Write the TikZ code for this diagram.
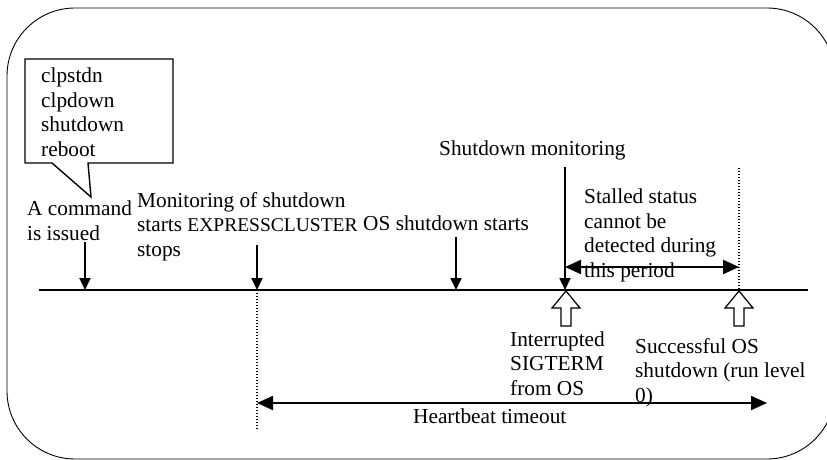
\documentclass[tikz,border=0pt]{standalone}
\usepackage{fontspec}
\setmainfont{Liberation Serif}
\usetikzlibrary{arrows.meta}

\tikzset{
  lbl/.style={anchor=base west, align=left, inner sep=0pt,
    font=\fontsize{21.3}{24.5}\selectfont},
  tick/.style={line width=1.8pt, -{Triangle[length=12pt,width=11pt]}},
  span/.style={line width=2pt,
    {Triangle[length=16pt,width=14pt]}-{Triangle[length=16pt,width=14pt]}},
  guide/.style={line width=1.2pt, dash pattern=on 1.2pt off 1.8pt},
  hollowup/.pic={
    \draw[line width=1.2pt,fill=white] (0,0) -- (14,17) -- (5,17) -- (5,35)
      -- (-5,35) -- (-5,17) -- (-14,17) -- cycle;
  },
}

\begin{document}
\begin{tikzpicture}[x=1pt,y=-1pt]
  \useasboundingbox (0,0) rectangle (827,460);
  \clip (0,0) rectangle (827,460);
  \draw[line width=0.9pt,rounded corners=68pt] (7,8) rectangle (835,459);

  % time line
  \coordinate (tl0) at (39,290);
  \coordinate (tl1) at (808,290);
  \draw[line width=1.3pt] (tl0) -- (tl1);

  % command callout (base anchor = last line)
  \draw[line width=1.4pt] (25,59) -- (173,59) -- (173,163) -- (88,163)
    -- (91,197) -- (52,163) -- (25,163) -- cycle;
  \node[lbl] (cmds) at (41,156) {clpstdn\\clpdown\\shutdown\\reboot};

  % events above the line
  \node[lbl] (issued) at (27,240) {A command\\is issued};
  \node[lbl] (monstart) at (137,256) {Monitoring of shutdown\\starts
    {\fontsize{19.5}{24.5}\selectfont EXPRESSCLUSTER}\\stops};
  \node[lbl] (osstart) at (363,230) {OS shutdown starts};
  \node[lbl] (sdmon) at (439,155) {Shutdown monitoring};
  \node[lbl] (stalled) at (584,277) {Stalled status\\cannot be\\detected during\\this period};

  \coordinate (a1) at (85,242);
  \coordinate (a2) at (257,245);
  \coordinate (a3) at (456,237);
  \coordinate (a4) at (565,167);
  \draw[tick] (a1) -- (a1 |- tl0);
  \draw[tick] (a2) -- (a2 |- tl0);
  \draw[tick] (a3) -- (a3 |- tl0);
  \draw[tick] (a4) -- (a4 |- tl0);

  % stalled period
  \coordinate (sp0) at (565,267);
  \coordinate (sp1) at (739,267);
  \coordinate (g1) at (739,168);
  \draw[guide] (g1) -- (g1 |- tl0);
  \draw[span] (sp0) -- (sp1);

  % heartbeat timeout
  \coordinate (g0) at (257,430);
  \coordinate (hb0) at (257,403);
  \coordinate (hb1) at (767,403);
  \draw[guide] (a2 |- tl0) -- (g0);
  \draw[span] (hb0) -- (hb1);
  \node[lbl] (hbt) at (413,423) {Heartbeat timeout};

  % events below the line
  \node[lbl,fill=white,inner xsep=4pt,inner ysep=6pt] (sigterm) at (506,395)
    {Interrupted\\SIGTERM\\from OS};
  \node[lbl] (osdown) at (635,402) {Successful OS\\shutdown (run level\\0)};
  \pic at (566,291) {hollowup};
  \pic at (739,291) {hollowup};
\end{tikzpicture}
\end{document}
